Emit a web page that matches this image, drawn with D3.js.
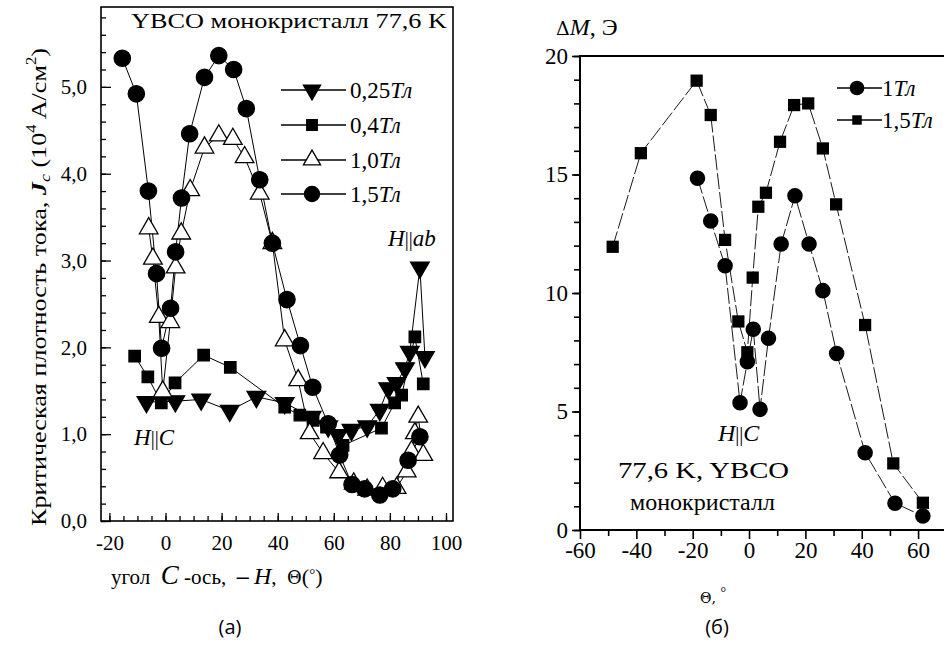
<!DOCTYPE html>
<html><head><meta charset="utf-8">
<script src="https://cdn.jsdelivr.net/npm/d3@7"></script>
<style>
body{margin:0;background:#fff;}
</style>
</head><body>
<svg id="c" width="944" height="646"></svg>
<script>
// ---------- DATA: panel (a) ----------
const a025Angle = [-6.8, 3.5, 12.7, 22.9, 32.4, 42.5, 52.1, 58, 61.5, 66.3, 71.9, 76.4, 79.4, 82.4, 85.4, 87.1, 90.7, 92.5];
const a025Jc    = [1.37, 1.38, 1.40, 1.27, 1.43, 1.36, 1.20, 1.09, 0.99, 1.05, 1.09, 1.28, 1.53, 1.59, 1.76, 1.95, 2.92, 1.89];
const a04Angle  = [-11, -6.3, -1.5, 3.4, 13.6, 23.1, 42.5, 47.9, 52.6, 57.4, 63.3, 77, 81.7, 84.2, 88.9, 91.9];
const a04Jc     = [1.90, 1.66, 1.36, 1.59, 1.91, 1.77, 1.31, 1.22, 1.16, 1.08, 0.87, 1.07, 1.36, 1.45, 2.12, 1.58];
const a10Angle  = [-6.0, -4.5, -2.4, -1.0, 1.7, 3.6, 5.6, 8.8, 13.9, 19, 24, 28.2, 33.6, 38.1, 42.5, 47.3, 51.4, 56.2, 61.9, 67.1, 71.9, 77.4, 82.4, 86, 87.7, 88.9, 90.1, 91.9];
const a10Jc     = [3.37, 3.02, 2.35, 1.49, 2.29, 2.92, 3.31, 3.81, 4.30, 4.44, 4.40, 4.19, 3.77, 3.20, 2.08, 1.62, 1.01, 0.78, 0.56, 0.43, 0.36, 0.38, 0.38, 0.57, 0.80, 1.01, 1.20, 0.76];
const a15Angle  = [-15.4, -10.4, -6.1, -3.2, -1.4, 1.8, 3.6, 5.7, 8.6, 13.9, 19.0, 24.3, 28.8, 33.6, 38.1, 43.3, 48.1, 52.5, 58, 62.1, 66.5, 71, 76.4, 81, 86.5, 90.7];
const a15Jc     = [5.33, 4.92, 3.80, 2.85, 1.99, 2.45, 3.10, 3.72, 4.46, 5.11, 5.36, 5.20, 4.75, 3.93, 3.20, 2.55, 2.02, 1.54, 1.12, 0.76, 0.42, 0.37, 0.30, 0.37, 0.70, 0.97];
const aLegend   = ["0,25", "0,4", "1,0", "1,5"];
const aYTicks   = [0, 1, 2, 3, 4, 5];
const aYTickLabels = ["0,0", "1,0", "2,0", "3,0", "4,0", "5,0"];
const aXTicks   = [-20, 0, 20, 40, 60, 80, 100];

// ---------- DATA: panel (б) ----------
const b15Angle = [-48.4, -38.4, -18.6, -13.6, -8.5, -3.8, -0.6, 1.3, 3.3, 6.0, 11, 16, 21, 26.2, 30.9, 41.2, 51.2, 61.7];
const b15dM    = [11.95, 15.9, 18.96, 17.51, 12.24, 8.8, 7.5, 10.65, 13.64, 14.23, 16.38, 17.93, 18.0, 16.1, 13.74, 8.65, 2.81, 1.15];
const b1Angle  = [-18.3, -13.6, -8.5, -3.2, -0.6, 1.5, 3.9, 6.9, 11.4, 16.3, 21.3, 26.2, 31.1, 41.2, 51.8, 61.7];
const b1dM     = [14.84, 13.04, 11.15, 5.37, 7.10, 8.47, 5.09, 8.09, 12.07, 14.1, 12.07, 10.1, 7.45, 3.26, 1.13, 0.59];
const bLegend  = ["1", "1,5"];
const bYTicks  = [0, 5, 10, 15, 20];
const bXTicks  = [-60, -40, -20, 0, 20, 40, 60];

const svg = d3.select("#c");
const FONT = "Liberation Serif";
const NB = "\u00a0";

function rich(parent, x, y, parts, opts = {}) {
  const t = parent.append("text").attr("x", x).attr("y", y)
    .attr("font-family", FONT)
    .attr("font-size", opts.size || 20).attr("fill", "#000")
    .attr("text-anchor", opts.anchor || "start");
  if (opts.transform) t.attr("transform", opts.transform);
  parts.forEach(p => {
    const s = t.append("tspan").text(p.t);
    if (p.i) s.attr("font-style", "italic");
    if (p.b) s.attr("font-weight", "bold");
    if (p.size) s.attr("font-size", p.size);
    if (p.dy) s.attr("dy", p.dy);
    if (p.font) s.attr("font-family", p.font);
  });
  return t;
}

function sym(type, size) { return d3.symbol().type(type).size(size)(); }

// ================= PANEL (a) =================
const ax = d3.scaleLinear().domain([-23, 102.5]).range([101, 453]);
const ay = d3.scaleLinear().domain([0, 5.92]).range([521, 7]);
const ga = svg.append("g");

const yMaj = ga.append("g").attr("transform", `translate(${ax.range()[0]},0)`)
  .call(d3.axisLeft(ay).tickValues(aYTicks).tickSizeInner(-10).tickSizeOuter(0).tickPadding(14).tickFormat((d, i) => aYTickLabels[i]));
const yMin = ga.append("g").attr("transform", `translate(${ax.range()[0]},0)`)
  .call(d3.axisLeft(ay).tickValues(d3.range(0, 5.9, 0.2)).tickSizeInner(-5).tickSizeOuter(0).tickFormat(""));
const xMaj = ga.append("g").attr("transform", `translate(0,${ay.range()[0]})`)
  .call(d3.axisBottom(ax).tickValues(aXTicks).tickSizeInner(-8).tickSizeOuter(0).tickPadding(14).tickFormat(d => d < 0 ? "-" + Math.abs(d) : d));
const xMin = ga.append("g").attr("transform", `translate(0,${ay.range()[0]})`)
  .call(d3.axisBottom(ax).tickValues(d3.range(-20, 101, 5)).tickSizeInner(-5).tickSizeOuter(0).tickFormat(""));
[yMaj, yMin, xMaj, xMin].forEach(g => {
  g.attr("font-family", FONT).attr("font-size", 21);
  g.select(".domain").remove();
  g.selectAll("line").attr("stroke", "#000").attr("stroke-width", 1.3);
  g.selectAll("text").attr("font-family", FONT).attr("font-size", 21).attr("fill", "#000");
});
ga.append("rect").attr("x", 101).attr("y", 7).attr("width", 352).attr("height", 514)
  .attr("fill", "none").attr("stroke", "#000").attr("stroke-width", 1.6);

const aSeries = [
  { ang: a025Angle, val: a025Jc, type: d3.symbolTriangle, size: 150, rot: 180, fill: "#000" },
  { ang: a04Angle,  val: a04Jc,  type: d3.symbolSquare,   size: 130, rot: 0,   fill: "#000" },
  { ang: a10Angle,  val: a10Jc,  type: d3.symbolTriangle, size: 150, rot: 0,   fill: "#fff" },
  { ang: a15Angle,  val: a15Jc,  type: d3.symbolCircle,   size: 210, rot: 0,   fill: "#000" }
];
const aLine = d3.line().x(d => ax(d[0])).y(d => ay(d[1]));
aSeries.forEach(s => {
  const pts = s.ang.map((a, i) => [a, s.val[i]]);
  ga.append("path").attr("d", aLine(pts)).attr("fill", "none").attr("stroke", "#000").attr("stroke-width", 1);
});
aSeries.forEach(s => {
  const pts = s.ang.map((a, i) => [a, s.val[i]]);
  ga.selectAll(null).data(pts).enter().append("path")
    .attr("d", sym(s.type, s.size))
    .attr("transform", d => `translate(${ax(d[0])},${ay(d[1])}) rotate(${s.rot})`)
    .attr("fill", s.fill).attr("stroke", "#000").attr("stroke-width", 1.3);
});

// legend (a)
const legY = [90, 125, 160, 194];
aSeries.forEach((s, i) => {
  const y = legY[i];
  ga.append("line").attr("x1", 281).attr("x2", 346).attr("y1", y).attr("y2", y).attr("stroke", "#000").attr("stroke-width", 1.3);
  ga.append("path").attr("d", sym(s.type, s.size * 0.85))
    .attr("transform", `translate(312,${y}) rotate(${s.rot})`)
    .attr("fill", s.fill).attr("stroke", "#000").attr("stroke-width", 1.3);
  rich(ga, 350, y + 8, [{ t: aLegend[i] }, { t: "Тл", i: true }], { size: 23 });
});

// title & annotations (a)
rich(ga, 131, 28, [{ t: "YBCO монокристалл 77,6 K" }], { size: 21 })
  .attr("textLength", 316).attr("lengthAdjust", "spacingAndGlyphs");
rich(ga, 388, 246, [{ t: "H", i: true }, { t: "||", size: 20 }, { t: "ab", i: true }], { size: 23 });
rich(ga, 134, 445, [{ t: "H", i: true }, { t: "||", size: 20 }, { t: "C", i: true }], { size: 23 });

// axis titles (a)
rich(ga, 46, 287, [
  { t: "Критическая плотность тока, " },
  { t: "J", i: true, b: true },
  { t: "c", i: true, size: 15, dy: 4 },
  { t: " (10", dy: -4 },
  { t: "4", size: 14, dy: -10 },
  { t: " A/см", dy: 10 },
  { t: "2", size: 14, dy: -10 },
  { t: ")", dy: 10 }
], { size: 22, anchor: "middle", transform: "rotate(-90,46,287)" })
  .attr("textLength", 478).attr("lengthAdjust", "spacingAndGlyphs");

rich(ga, 111, 584, [
  { t: "угол" + NB + NB },
  { t: "C", i: true, size: 27 },
  { t: NB + "-ось," + NB + NB },
  { t: "–", b: true, size: 24 },
  { t: NB },
  { t: "H", i: true, size: 24 },
  { t: "," + NB + NB, size: 21 },
  { t: "Θ", size: 18, font: "DejaVu Serif" },
  { t: "(", size: 22 },
  { t: "°", size: 15, dy: -5 },
  { t: ")", size: 22, dy: 5 }
], { size: 21 });

// ================= PANEL (б) =================
const bx = d3.scaleLinear().domain([-60, 69.2]).range([580, 944]);
const by = d3.scaleLinear().domain([0, 20]).range([530, 56]);
const gb = svg.append("g");

const bYMaj = gb.append("g").attr("transform", "translate(580,0)")
  .call(d3.axisLeft(by).tickValues(bYTicks).tickSizeInner(8).tickSizeOuter(0).tickPadding(4).tickFormat(d3.format("d")));
const bYMin = gb.append("g").attr("transform", "translate(580,0)")
  .call(d3.axisLeft(by).tickValues(d3.range(0, 20.1, 1)).tickSizeInner(6).tickSizeOuter(0).tickFormat(""));
const bXMaj = gb.append("g").attr("transform", "translate(0,530)")
  .call(d3.axisBottom(bx).tickValues(bXTicks).tickSizeInner(9).tickSizeOuter(0).tickPadding(3).tickFormat(d => d < 0 ? "-" + Math.abs(d) : d));
const bXMin = gb.append("g").attr("transform", "translate(0,530)")
  .call(d3.axisBottom(bx).tickValues(d3.range(-50, 69, 20)).tickSizeInner(6).tickSizeOuter(0).tickFormat(""));
[bYMaj, bYMin, bXMaj, bXMin].forEach(g => {
  g.attr("font-family", FONT).attr("font-size", 23);
  g.select(".domain").remove();
  g.selectAll("line").attr("stroke", "#000").attr("stroke-width", 1.6);
  g.selectAll("text").attr("font-family", FONT).attr("font-size", 23).attr("fill", "#000");
});
gb.append("line").attr("x1", 580).attr("x2", 580).attr("y1", 56).attr("y2", 530).attr("stroke", "#000").attr("stroke-width", 2);
gb.append("line").attr("x1", 579).attr("x2", 944).attr("y1", 530).attr("y2", 530).attr("stroke", "#000").attr("stroke-width", 2);
gb.append("line").attr("x1", 579).attr("x2", 944).attr("y1", 56).attr("y2", 56).attr("stroke", "#000").attr("stroke-width", 2);

const bSeries = [
  { ang: b1Angle,  val: b1dM,  type: d3.symbolCircle, size: 190 },
  { ang: b15Angle, val: b15dM, type: d3.symbolSquare, size: 150 }
];
const bLine = d3.line().x(d => bx(d[0])).y(d => by(d[1]));
bSeries.forEach(s => {
  const pts = s.ang.map((a, i) => [a, s.val[i]]);
  gb.append("path").attr("d", bLine(pts)).attr("fill", "none").attr("stroke", "#000")
    .attr("stroke-width", 0.9).attr("stroke-dasharray", "16,3");
});
bSeries.forEach(s => {
  const pts = s.ang.map((a, i) => [a, s.val[i]]);
  gb.selectAll(null).data(pts).enter().append("path")
    .attr("d", sym(s.type, s.size))
    .attr("transform", d => `translate(${bx(d[0])},${by(d[1])})`)
    .attr("fill", "#000");
});

// legend (б)
const bLegY = [88, 120];
bSeries.forEach((s, i) => {
  const y = bLegY[i];
  gb.append("line").attr("x1", 837).attr("x2", 882).attr("y1", y).attr("y2", y).attr("stroke", "#000").attr("stroke-width", 1.5);
  gb.append("path").attr("d", sym(s.type, i === 0 ? 170 : 90)).attr("transform", `translate(857,${y})`).attr("fill", "#000");
  rich(gb, 882, y + 8, [{ t: bLegend[i] }, { t: "Тл", i: true }], { size: 23 });
});

// annotations (б)
rich(gb, 556, 35, [{ t: "Δ", font: "DejaVu Serif", size: 19 }, { t: "M", i: true }, { t: ", Э" }], { size: 24 });
rich(gb, 718, 441, [{ t: "H", i: true }, { t: "||", size: 20 }, { t: "C", i: true }], { size: 24 });
rich(gb, 618, 478, [{ t: "77,6 K, YBCO" }], { size: 23 })
  .attr("textLength", 171).attr("lengthAdjust", "spacingAndGlyphs");
rich(gb, 630, 510, [{ t: "монокристалл" }], { size: 23 })
  .attr("textLength", 145).attr("lengthAdjust", "spacingAndGlyphs");
rich(gb, 700, 603, [{ t: "Θ, ", font: "DejaVu Serif" }, { t: "°", dy: -6 }], { size: 14 });

// panel captions
svg.append("text").attr("x", 230).attr("y", 634).attr("text-anchor", "middle")
  .attr("font-family", "Open Sans").attr("font-size", 20).text("(a)");
svg.append("text").attr("x", 717).attr("y", 634).attr("text-anchor", "middle")
  .attr("font-family", "Open Sans").attr("font-size", 20).text("(б)");
</script>
</body></html>
